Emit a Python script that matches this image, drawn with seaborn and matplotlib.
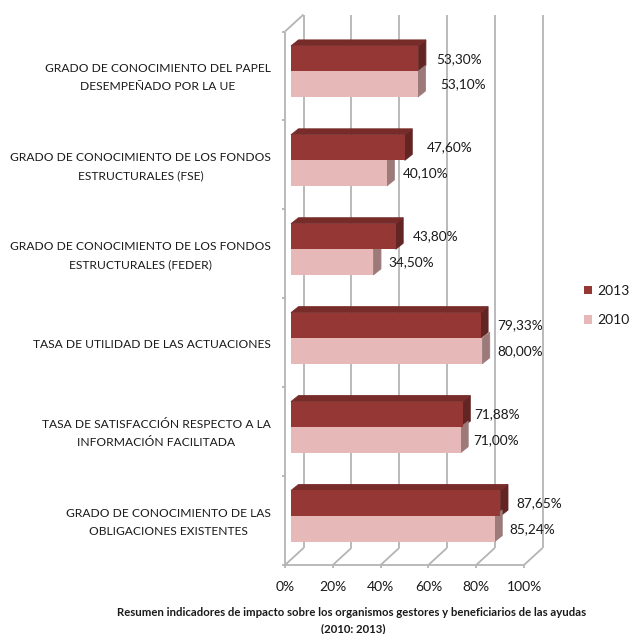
import matplotlib
matplotlib.use("Agg")
import matplotlib.pyplot as plt
import pandas as pd
import seaborn as sns
from matplotlib.patches import Polygon
from matplotlib.transforms import ScaledTranslation

categories = [
    "GRADO DE CONOCIMIENTO DEL PAPEL\nDESEMPEÑADO POR LA UE",
    "GRADO DE CONOCIMIENTO DE LOS FONDOS\nESTRUCTURALES (FSE)",
    "GRADO DE CONOCIMIENTO DE LOS FONDOS\nESTRUCTURALES (FEDER)",
    "TASA DE UTILIDAD DE LAS ACTUACIONES",
    "TASA DE SATISFACCIÓN RESPECTO A LA\nINFORMACIÓN FACILITADA",
    "GRADO DE CONOCIMIENTO DE LAS\nOBLIGACIONES EXISTENTES",
]
values_2013 = [53.30, 47.60, 43.80, 79.33, 71.88, 87.65]
values_2010 = [53.10, 40.10, 34.50, 80.00, 71.00, 85.24]
x_ticks = [0, 20, 40, 60, 80, 100]
label_gap_2013 = [18, 22, 17, 17, 11, 16]
label_gap_2010 = [22, 16, 15, 15, 13, 15]

RED = "#953735"
RED_TOP = "#772c2a"
RED_SIDE = "#632523"
PINK = "#e6b9b8"
PINK_SIDE = "#9c7a7a"
WALL = "#b4b4b4"
TEXT = "#1a1a1a"
DPI = 100
W, H = 630, 634
LEFT, RIGHT, TOP, BOTTOM = 291, 530, 27, 560.5
DEPTH_X, DEPTH_Y = 7.5, 6

sns.set_theme(style="white")
plt.rcParams["font.family"] = ["Lato", "DejaVu Sans"]

df = pd.DataFrame({
    "categoria": categories * 2,
    "valor": values_2013 + values_2010,
    "anio": ["2013"] * 6 + ["2010"] * 6,
})

fig = plt.figure(figsize=(W / DPI, H / DPI), dpi=DPI)
ax = fig.add_axes([LEFT / W, 1 - BOTTOM / H, (RIGHT - LEFT) / W, (BOTTOM - TOP) / H])
sns.barplot(data=df, y="categoria", x="valor", hue="anio", hue_order=["2013", "2010"],
            palette=[RED, PINK], orient="h", width=0.575, gap=0, dodge=True,
            saturation=1, errorbar=None, linewidth=0, ax=ax, zorder=5)
ax.set_xlim(0, 100)
ax.set_ylim(5.5, -0.5)
ax.set_xlabel("")
ax.set_ylabel("")
ax.patch.set_alpha(0)
sns.despine(ax=ax, left=True, bottom=True)


def shifted(dx, dy):
    return ax.transData + ScaledTranslation(dx / DPI, -dy / DPI, fig.dpi_scale_trans)


front = shifted(-6, 4.5)
back = shifted(12.5, -12.5)
line = dict(color=WALL, lw=1.3, clip_on=False, zorder=1, solid_capstyle="butt")

# walls and floor of the fake 3d box
ax.plot([0, 0], [-0.5, 5.5], transform=front, **line)
ax.plot([0, 100], [5.5, 5.5], transform=front, **line)
for t in x_ticks:
    ax.plot([t, t], [-0.5, 5.5], transform=back, **line)
    x0, y0 = front.transform((t, 5.5))
    x1, y1 = back.transform((t, 5.5))
    ax.plot([x0, x1], [y0, y1], transform=None, **line)
    ax.plot([x0, x0], [y0, y0 - 3], transform=None, **line)
x0, y0 = front.transform((0, -0.5))
x1, y1 = back.transform((0, -0.5))
ax.plot([x0, x1], [y0, y1], transform=None, **line)
for k in range(7):
    x0, y0 = front.transform((0, k - 0.5))
    ax.plot([x0 - 3, x0], [y0, y0], transform=None, **line)

# bar depth, measured in pixels and turned into data units
dx = DEPTH_X / ((RIGHT - LEFT) / 100)
dy = DEPTH_Y / ((BOTTOM - TOP) / 6)
for container, side, gaps, vals in zip(ax.containers, [RED_SIDE, PINK_SIDE],
                                       [label_gap_2013, label_gap_2010],
                                       [values_2013, values_2010]):
    for bar, gap, val in zip(container, gaps, vals):
        x, y0, y1 = bar.get_width(), bar.get_y(), bar.get_y() + bar.get_height()
        ax.add_patch(Polygon([(x, y0), (x + dx, y0 - dy), (x + dx, y1 - dy), (x, y1)],
                             fc=side, ec=side, lw=0.6, clip_on=False, zorder=4))
        if side == RED_SIDE:
            ax.add_patch(Polygon([(0, y0), (dx, y0 - dy), (x + dx, y0 - dy), (x, y0)],
                                 fc=RED_TOP, ec=RED_TOP, lw=0.6, clip_on=False, zorder=4))
        ax.annotate(f"{val:.2f}%".replace(".", ","), (x, (y0 + y1) / 2), xytext=(gap * 72 / DPI, 0),
                    textcoords="offset points", va="center", ha="left",
                    fontsize=9.8, color=TEXT, zorder=6)

ax.set_xticks(x_ticks, [f"{t}%" for t in x_ticks])
ax.tick_params(axis="x", length=0, pad=15, labelsize=10, labelcolor=TEXT)
for lab in ax.get_xticklabels():
    lab.set_transform(lab.get_transform() + ScaledTranslation(-6 / DPI, 0, fig.dpi_scale_trans))
ax.tick_params(axis="y", length=0, pad=14.5, labelsize=8.65, labelcolor=TEXT)
for lab in ax.get_yticklabels():
    lab.set_multialignment("center")
    lab.set_linespacing(1.82)
    drop = 1.5 if "\n" in lab.get_text() else 5
    lab.set_transform(lab.get_transform() + ScaledTranslation(0, -drop / DPI, fig.dpi_scale_trans))

sns.move_legend(ax, "center left", bbox_to_anchor=(571 / W, 1 - 305.5 / H),
                bbox_transform=fig.transFigure, title=None, frameon=False,
                fontsize=10, handlelength=0.6, handleheight=0.6,
                handletextpad=0.4, labelspacing=1.25, labelcolor=TEXT)

fig.text(352 / W, 1 - 612 / H, "Resumen indicadores de impacto sobre los organismos gestores y beneficiarios de las ayudas",
         ha="center", va="center", fontsize=8.22, fontweight="bold", color=TEXT)
fig.text(353 / W, 1 - 629 / H, "(2010: 2013)", ha="center", va="center",
         fontsize=8.22, fontweight="bold", color=TEXT)

fig.savefig("out.png", dpi=DPI, facecolor="white")
